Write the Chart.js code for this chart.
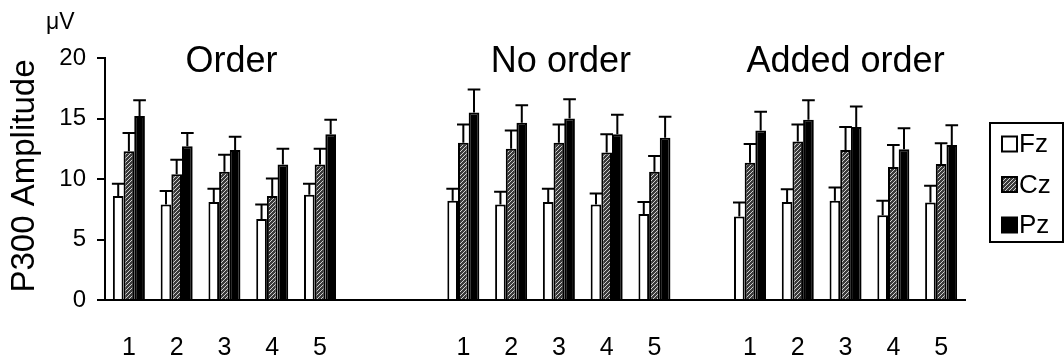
<!DOCTYPE html>
<html>
<head>
<meta charset="utf-8">
<script src="https://cdn.jsdelivr.net/npm/chart.js@4.4.1/dist/chart.umd.min.js"></script>
<style>
  body { margin: 0; background: #fff; }
</style>
</head>
<body>
<canvas id="chart" width="1064" height="363"></canvas>
<script>
// 3 conditions x 5 blocks, empty slots between the groups
const labels = ['1', '2', '3', '4', '5', '', '', '1', '2', '3', '4', '5', '', '1', '2', '3', '4', '5'];
const groupTitles = ['Order', 'No order', 'Added order'];
const yTicks = [0, 5, 10, 15, 20];

const fz = [8.6, 7.9, 8.1, 6.7, 8.7, null, null, 8.2, 7.9, 8.1, 7.9, 7.1, null, 6.9, 8.1, 8.2, 7.0, 8.05];
const cz = [12.3, 10.4, 10.6, 8.6, 11.2, null, null, 13.0, 12.5, 13.0, 12.2, 10.6, null, 11.35, 13.1, 12.4, 11.0, 11.25];
const pz = [15.2, 12.7, 12.4, 11.2, 13.7, null, null, 15.5, 14.65, 15.0, 13.7, 13.4, null, 14.0, 14.9, 14.3, 12.45, 12.8];

const fzErr = [1.0, 1.1, 1.1, 1.2, 0.9, null, null, 1.0, 1.05, 1.1, 0.9, 1.0, null, 1.15, 1.05, 1.1, 1.2, 1.4];
const czErr = [1.5, 1.2, 1.4, 1.45, 1.3, null, null, 1.5, 1.5, 1.5, 1.5, 1.3, null, 1.55, 1.4, 1.9, 1.8, 1.7];
const pzErr = [1.3, 1.1, 1.1, 1.3, 1.2, null, null, 1.9, 1.45, 1.6, 1.6, 1.75, null, 1.55, 1.6, 1.7, 1.75, 1.65];

const FONT = '"Liberation Sans", Arial, sans-serif';

// diagonal hatch for Cz
function makeHatch() {
    const c = document.createElement('canvas');
    c.width = 4; c.height = 4;
    const g = c.getContext('2d');
    g.fillStyle = '#3a3a3a';
    g.fillRect(0, 0, 4, 4);
    g.strokeStyle = '#d0d0d0';
    g.lineWidth = 1;
    g.beginPath();
    g.moveTo(0, 4); g.lineTo(4, 0);
    g.moveTo(-1, 1); g.lineTo(1, -1);
    g.moveTo(3, 5); g.lineTo(5, 3);
    g.stroke();
    return g.createPattern(c, 'repeat');
}
const hatch = makeHatch();

const errors = [fzErr, czErr, pzErr];

const extras = {
    id: 'extras',
    afterDatasetsDraw(chart) {
        const ctx = chart.ctx;
        const y = chart.scales.y;
        ctx.save();
        ctx.strokeStyle = '#000';
        ctx.lineWidth = 2;
        chart.data.datasets.forEach((ds, i) => {
            const meta = chart.getDatasetMeta(i);
            meta.data.forEach((bar, j) => {
                const v = ds.data[j];
                const e = errors[i][j];
                if (v == null || e == null) return;
                const top = y.getPixelForValue(v + e);
                const half = bar.width / 2 + 1;
                ctx.beginPath();
                ctx.moveTo(bar.x, bar.y);
                ctx.lineTo(bar.x, top);
                ctx.moveTo(bar.x - half, top);
                ctx.lineTo(bar.x + half, top);
                ctx.stroke();
            });
        });
        ctx.restore();
    },
    afterDraw(chart) {
        const ctx = chart.ctx;
        const x = chart.scales.x;
        ctx.save();
        ctx.fillStyle = '#000';

        // group titles, over blocks 1-5 of each group
        ctx.font = '36px ' + FONT;
        ctx.textAlign = 'center';
        ctx.textBaseline = 'alphabetic';
        const starts = [0, 7, 13];
        const shift = [7, 2, 0];
        starts.forEach((s, k) => {
            const cx = (x.getPixelForValue(s) + x.getPixelForValue(s + 4)) / 2 + shift[k];
            ctx.fillText(groupTitles[k], cx, 72);
        });

        // unit
        ctx.font = '23px ' + FONT;
        ctx.textAlign = 'left';
        ctx.fillText('\u03bcV', 46, 29);

        // y title
        ctx.save();
        ctx.translate(34, 176);
        ctx.rotate(-Math.PI / 2);
        ctx.font = '33px ' + FONT;
        ctx.textAlign = 'center';
        ctx.textBaseline = 'alphabetic';
        ctx.fillText('P300 Amplitude', 0, 0);
        ctx.restore();

        // legend
        ctx.lineWidth = 2;
        ctx.strokeStyle = '#000';
        ctx.strokeRect(990, 123, 73, 119);
        const items = [['Fz', '#fff'], ['Cz', hatch], ['Pz', '#000']];
        ctx.font = '26px ' + FONT;
        ctx.textBaseline = 'middle';
        items.forEach((it, k) => {
            const cy = 144 + k * 40.5;
            ctx.fillStyle = it[1];
            ctx.fillRect(1002, cy - 7.5, 15, 15);
            ctx.strokeRect(1002, cy - 7.5, 15, 15);
            ctx.fillStyle = '#000';
            ctx.fillText(it[0], 1019, cy + 1);
        });
        ctx.restore();
    }
};

const barStyle = { borderColor: '#000', borderWidth: 2, borderSkipped: 'bottom', categoryPercentage: 0.67, barPercentage: 1.0 };

new Chart(document.getElementById('chart'), {
    type: 'bar',
    data: {
        labels: labels,
        datasets: [
            { label: 'Fz', data: fz, backgroundColor: '#fff', ...barStyle },
            { label: 'Cz', data: cz, backgroundColor: hatch, ...barStyle },
            { label: 'Pz', data: pz, backgroundColor: '#000', ...barStyle }
        ]
    },
    options: {
        responsive: false,
        devicePixelRatio: 1,
        animation: false,
        layout: { padding: { top: 58, right: 99, left: 0, bottom: 0 } },
        plugins: { legend: { display: false }, title: { display: false }, tooltip: { enabled: false } },
        scales: {
            x: {
                grid: { display: false, drawTicks: false },
                border: { color: '#000', width: 2 },
                ticks: { color: '#000', font: { family: FONT, size: 25 }, padding: 33, maxRotation: 0, autoSkip: false },
                afterFit: (s) => { s.height = 63; }
            },
            y: {
                min: 0,
                max: 20,
                afterBuildTicks: (s) => { s.ticks = yTicks.map(v => ({ value: v })); },
                grid: { drawOnChartArea: false, drawTicks: true, tickLength: 8, color: '#000', lineWidth: 2 },
                border: { color: '#000', width: 2 },
                ticks: { color: '#000', font: { family: FONT, size: 24 }, padding: 11 },
                afterFit: (s) => { s.width = 105; }
            }
        }
    },
    plugins: [extras]
});
</script>
</body>
</html>
